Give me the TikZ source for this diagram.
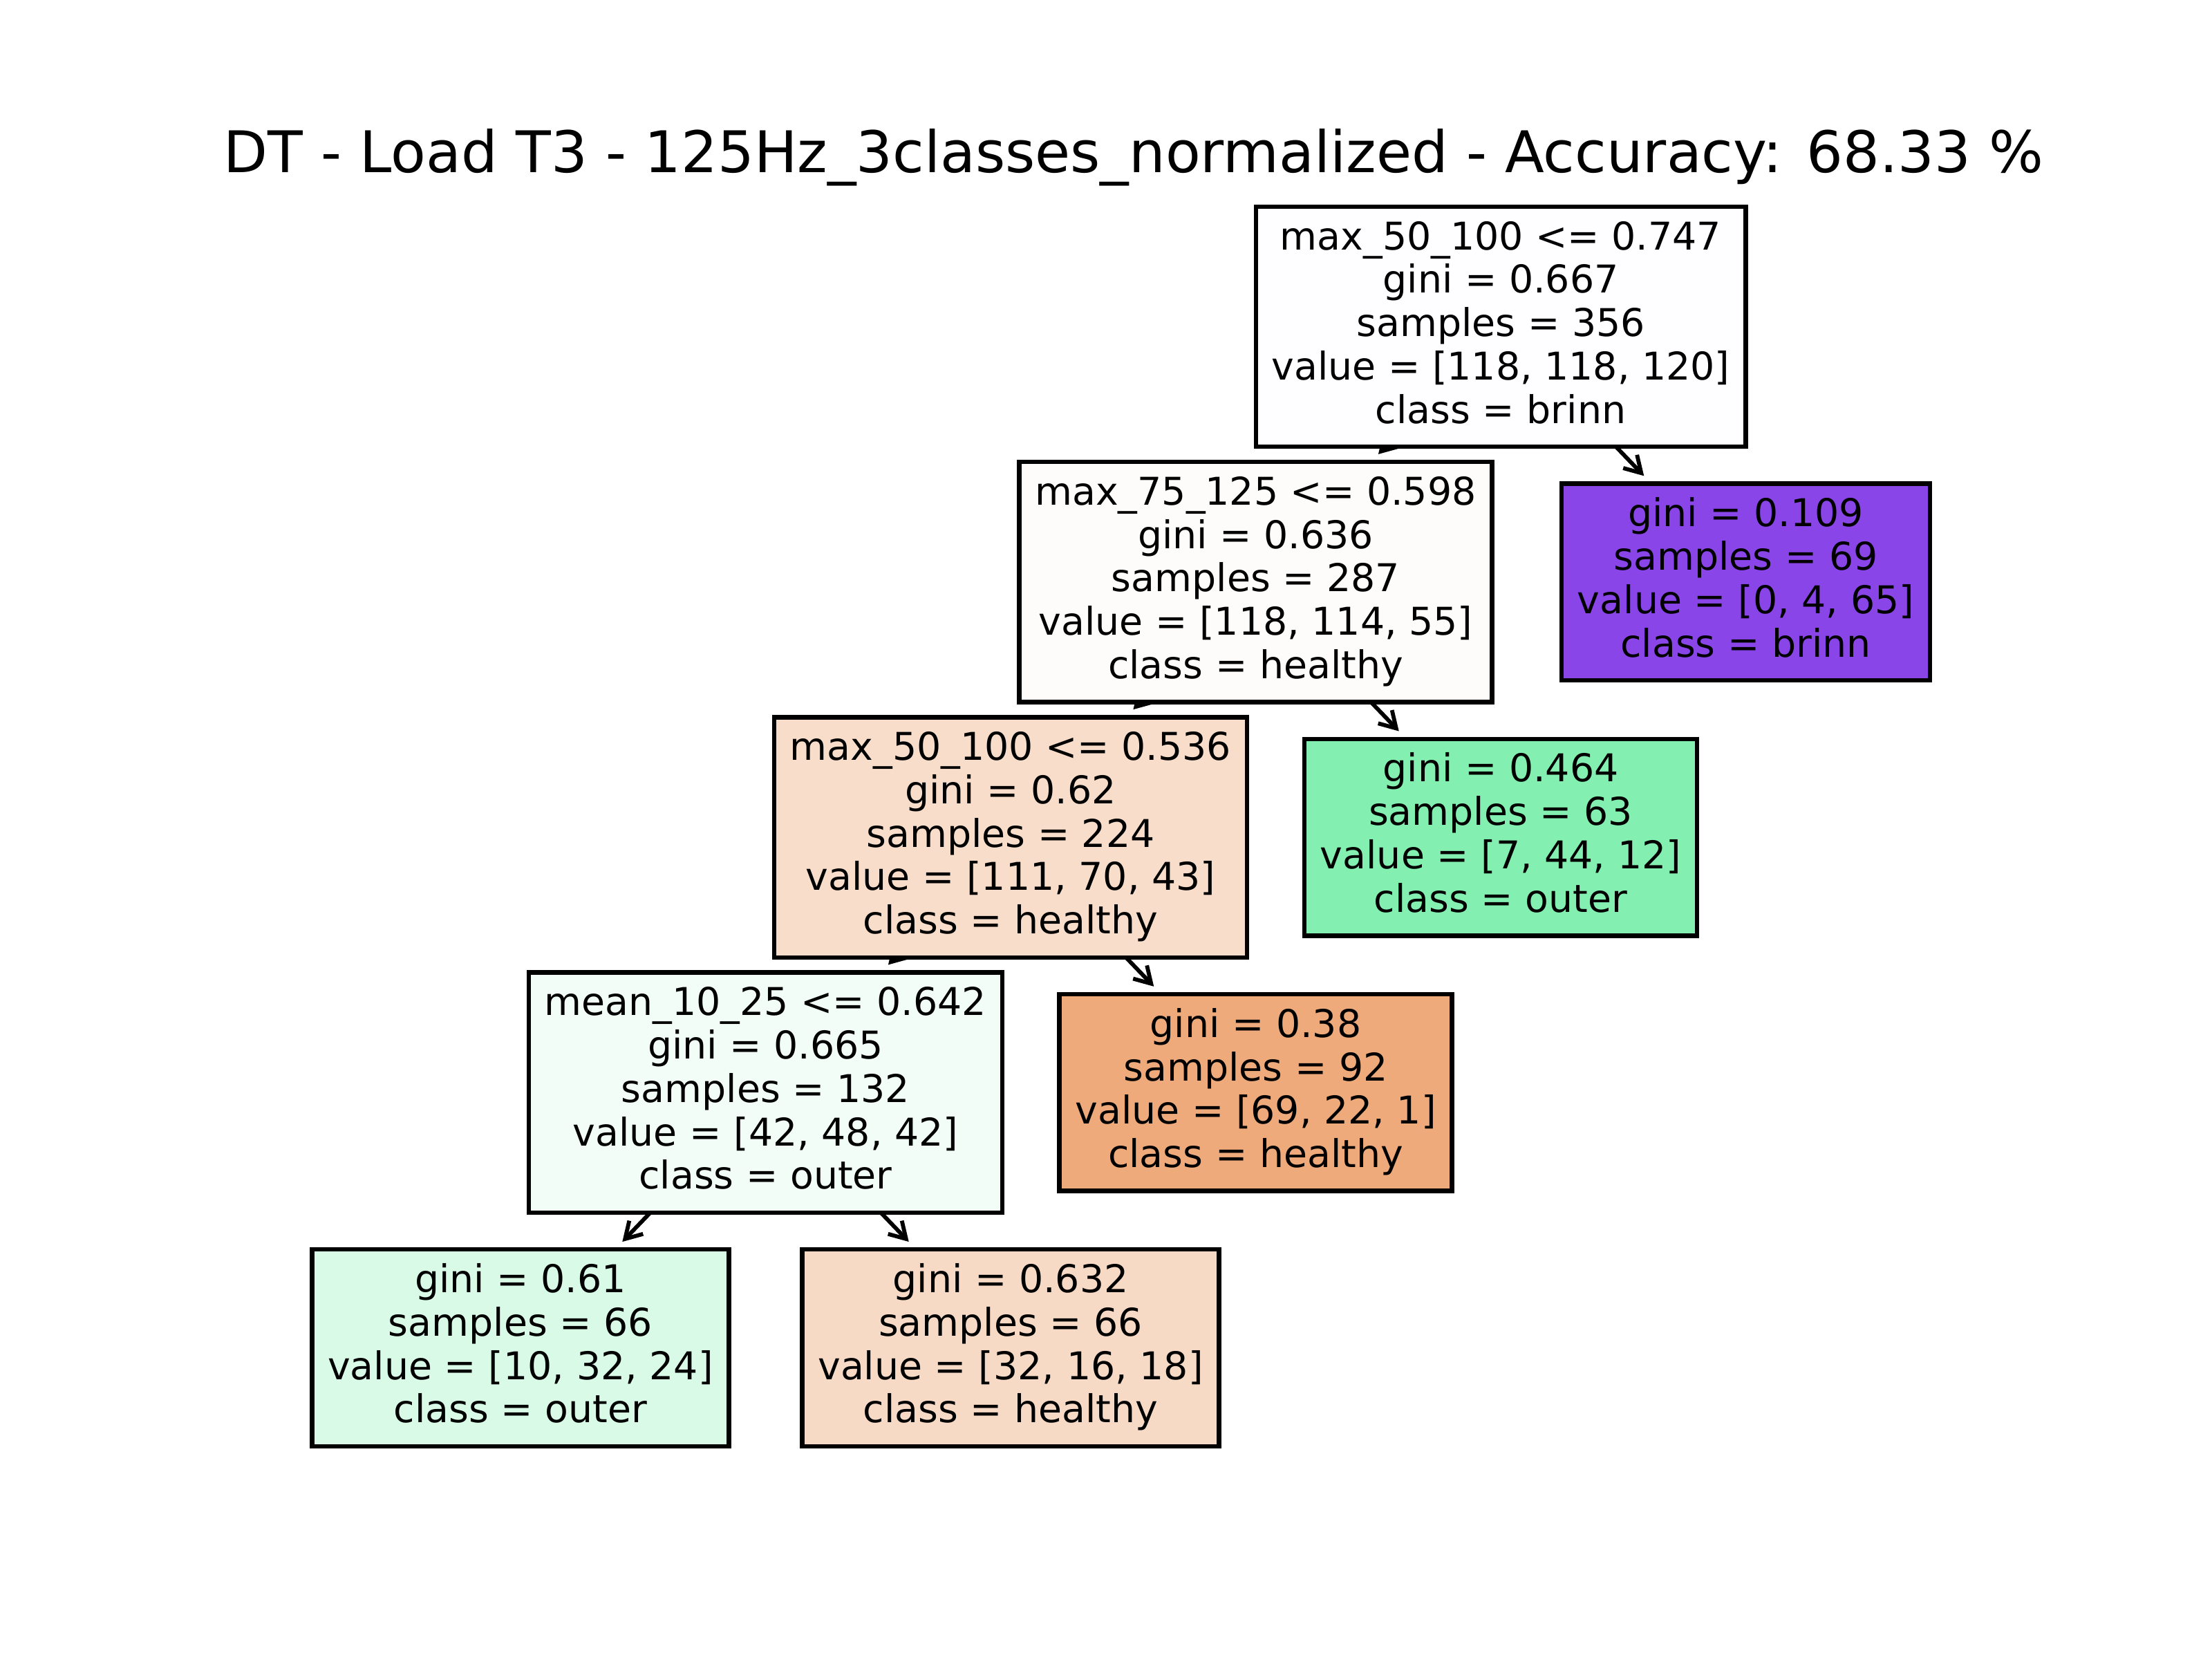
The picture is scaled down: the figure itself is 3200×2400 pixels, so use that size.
\documentclass[tikz,border=0pt]{standalone}
\usepackage{fontspec}
\setmainfont{DejaVu Sans}
\usetikzlibrary{arrows.meta}
\definecolor{cRoot}{HTML}{FEFDFF}
\definecolor{cSplitB}{HTML}{FEFCFA}
\definecolor{cSplitC}{HTML}{F8DDCA}
\definecolor{cSplitD}{HTML}{F2FDF7}
\definecolor{cBrinn}{HTML}{8945E7}
\definecolor{cOuterA}{HTML}{83EFB0}
\definecolor{cOuterB}{HTML}{D9FAE7}
\definecolor{cHealthyA}{HTML}{EEAA7A}
\definecolor{cHealthyB}{HTML}{F7DAC5}
\pgfdeclarelayer{bg}
\pgfsetlayers{bg,main}

\begin{document}
\begin{tikzpicture}[x=0.180675pt,y=-0.180675pt,
	box/.style={draw,line width=1.15pt,align=center,inner xsep=4.1pt,inner ysep=3.75pt,text depth=2.4pt,font=\fontsize{10pt}{11.34pt}\selectfont},
	split/.style={box,text height=52.86pt},
	leaf/.style={box,text height=41.52pt},
	link/.style={line width=1.05pt,-{Straight Barb[length=4.2pt,width=5pt]},shorten >=2pt}]
	\useasboundingbox (0,0) rectangle (3200,2400);
	\node[anchor=base,font=\fontsize{15pt}{18pt}\selectfont] (title) at (1640,249) {DT - Load T3 - 125Hz\_3classes\_normalized - Accuracy: 68.33 \%};
	\node[split,fill=cRoot] (n0) at (2171,472.5) {max\_50\_100 <= 0.747\\gini = 0.667\\samples = 356\\value = [118, 118, 120]\\class = brinn};
	\node[split,fill=cSplitB] (n1) at (1816.5,841.75) {max\_75\_125 <= 0.598\\gini = 0.636\\samples = 287\\value = [118, 114, 55]\\class = healthy};
	\node[leaf,fill=cBrinn] (lBrinn) at (2525.5,841.75) {gini = 0.109\\samples = 69\\value = [0, 4, 65]\\class = brinn};
	\node[split,fill=cSplitC] (n2) at (1462,1211) {max\_50\_100 <= 0.536\\gini = 0.62\\samples = 224\\value = [111, 70, 43]\\class = healthy};
	\node[leaf,fill=cOuterA] (lOuterA) at (2171,1211) {gini = 0.464\\samples = 63\\value = [7, 44, 12]\\class = outer};
	\node[split,fill=cSplitD] (n3) at (1107.5,1580.25) {mean\_10\_25 <= 0.642\\gini = 0.665\\samples = 132\\value = [42, 48, 42]\\class = outer};
	\node[leaf,fill=cHealthyA] (lHealthyA) at (1816.5,1580.25) {gini = 0.38\\samples = 92\\value = [69, 22, 1]\\class = healthy};
	\node[leaf,fill=cOuterB] (lOuterB) at (753,1949.5) {gini = 0.61\\samples = 66\\value = [10, 32, 24]\\class = outer};
	\node[leaf,fill=cHealthyB] (lHealthyB) at (1462,1949.5) {gini = 0.632\\samples = 66\\value = [32, 16, 18]\\class = healthy};
	\begin{pgfonlayer}{bg}
		\foreach \a/\b in {n0/n1,n0/lBrinn,n1/n2,n1/lOuterA,n2/n3,n2/lHealthyA,n3/lOuterB,n3/lHealthyB}
			\draw[link] (\a.center) -- (\b);
	\end{pgfonlayer}
\end{tikzpicture}
\end{document}
